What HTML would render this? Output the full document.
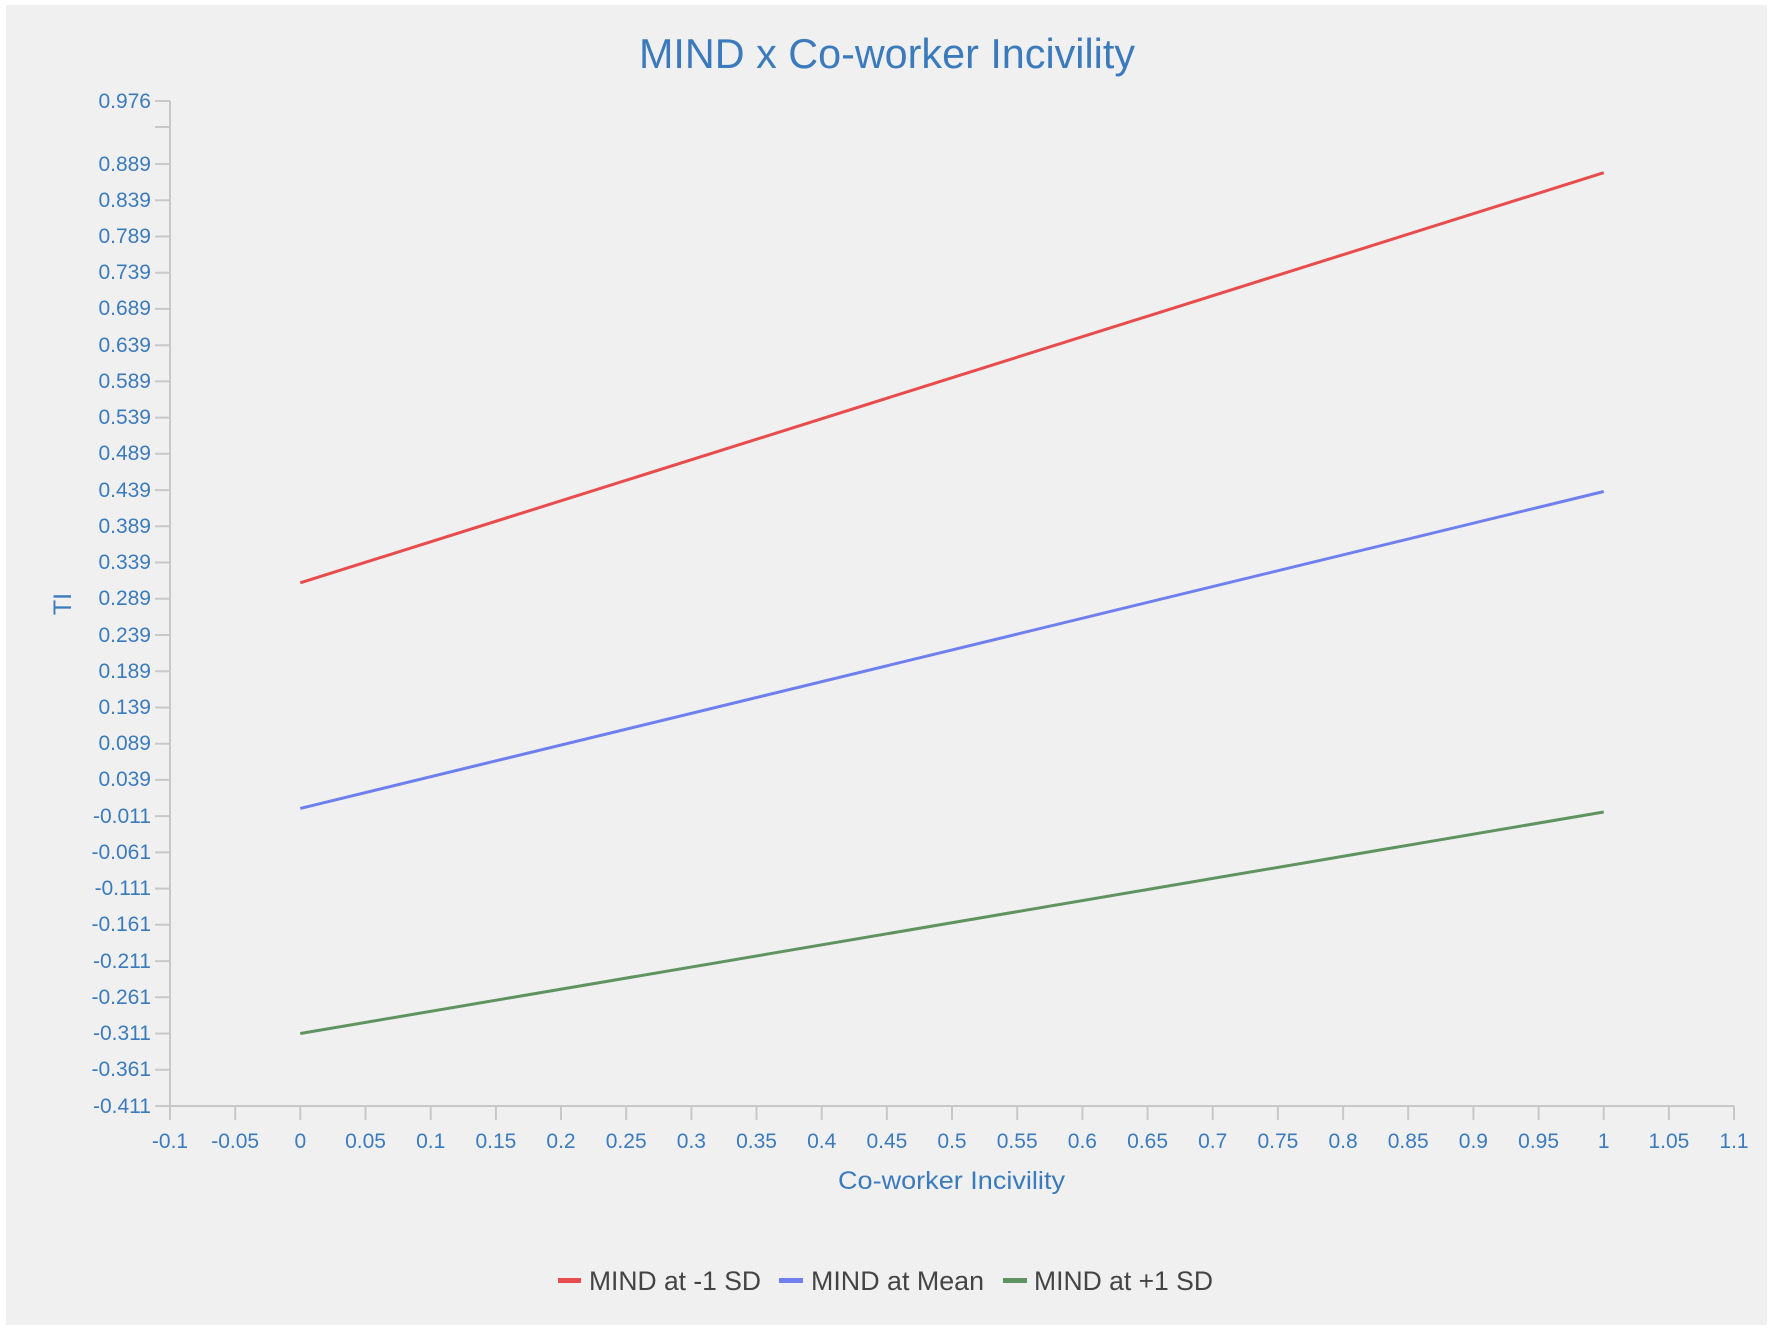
<!DOCTYPE html>
<html><head><meta charset="utf-8"><style>
html,body{margin:0;padding:0;background:#fff;}
svg{display:block;}
text{font-family:"Liberation Sans",sans-serif;}
.yl{font-size:21px;fill:#3b7bbd;text-anchor:end;}
.xl{font-size:21px;fill:#3b7bbd;text-anchor:middle;}
.lg{font-size:27px;fill:#444;}
</style></head><body>
<svg width="1772" height="1331" viewBox="0 0 1772 1331" xmlns="http://www.w3.org/2000/svg">
<rect x="0" y="0" width="1772" height="1331" fill="#fff"/>
<rect x="6" y="5" width="1761" height="1320" fill="#f0f0f0"/>
<text x="887" y="68" font-size="42" fill="#3b7bbd" text-anchor="middle" textLength="496" lengthAdjust="spacingAndGlyphs">MIND x Co-worker Incivility</text>
<g stroke="#c8c8c8" stroke-width="2" fill="none">
<path d="M170 101V1106H1734"/>
<path d="M155 101H170M155 127H170"/>
<path d="M155 164H170M155 200.2H170M155 236.5H170M155 272.7H170M155 308.9H170M155 345.2H170M155 381.4H170M155 417.6H170M155 453.8H170M155 490.1H170M155 526.3H170M155 562.5H170M155 598.8H170M155 635H170M155 671.2H170M155 707.5H170M155 743.7H170M155 779.9H170M155 816.1H170M155 852.4H170M155 888.6H170M155 924.8H170M155 961.1H170M155 997.3H170M155 1033.5H170M155 1069.8H170M155 1106H170"/>
<path d="M170 1106V1120M235.2 1106V1120M300.3 1106V1120M365.5 1106V1120M430.7 1106V1120M495.9 1106V1120M561 1106V1120M626.2 1106V1120M691.4 1106V1120M756.5 1106V1120M821.7 1106V1120M886.9 1106V1120M952 1106V1120M1017.2 1106V1120M1082.4 1106V1120M1147.6 1106V1120M1212.7 1106V1120M1277.9 1106V1120M1343.1 1106V1120M1408.2 1106V1120M1473.4 1106V1120M1538.6 1106V1120M1603.7 1106V1120M1668.9 1106V1120M1734 1106V1120"/>
</g>
<g class="yl">
<text x="151" y="108">0.976</text>
<text x="151" y="171">0.889</text><text x="151" y="207">0.839</text><text x="151" y="243">0.789</text><text x="151" y="279">0.739</text><text x="151" y="315">0.689</text><text x="151" y="352">0.639</text><text x="151" y="388">0.589</text><text x="151" y="424">0.539</text><text x="151" y="460">0.489</text><text x="151" y="497">0.439</text><text x="151" y="533">0.389</text><text x="151" y="569">0.339</text><text x="151" y="605">0.289</text><text x="151" y="642">0.239</text><text x="151" y="678">0.189</text><text x="151" y="714">0.139</text><text x="151" y="750">0.089</text><text x="151" y="786">0.039</text><text x="151" y="823">-0.011</text><text x="151" y="859">-0.061</text><text x="151" y="895">-0.111</text><text x="151" y="931">-0.161</text><text x="151" y="968">-0.211</text><text x="151" y="1004">-0.261</text><text x="151" y="1040">-0.311</text><text x="151" y="1076">-0.361</text><text x="151" y="1113">-0.411</text>
</g>
<g class="xl">
<text x="170" y="1148">-0.1</text><text x="235.2" y="1148">-0.05</text><text x="300.3" y="1148">0</text><text x="365.5" y="1148">0.05</text><text x="430.7" y="1148">0.1</text><text x="495.9" y="1148">0.15</text><text x="561" y="1148">0.2</text><text x="626.2" y="1148">0.25</text><text x="691.4" y="1148">0.3</text><text x="756.5" y="1148">0.35</text><text x="821.7" y="1148">0.4</text><text x="886.9" y="1148">0.45</text><text x="952" y="1148">0.5</text><text x="1017.2" y="1148">0.55</text><text x="1082.4" y="1148">0.6</text><text x="1147.6" y="1148">0.65</text><text x="1212.7" y="1148">0.7</text><text x="1277.9" y="1148">0.75</text><text x="1343.1" y="1148">0.8</text><text x="1408.2" y="1148">0.85</text><text x="1473.4" y="1148">0.9</text><text x="1538.6" y="1148">0.95</text><text x="1603.7" y="1148">1</text><text x="1668.9" y="1148">1.05</text><text x="1734" y="1148">1.1</text>
</g>
<text x="838" y="1189" font-size="25" fill="#3b7bbd" textLength="227" lengthAdjust="spacingAndGlyphs">Co-worker Incivility</text>
<text transform="translate(71,604) rotate(-90)" font-size="25" fill="#3b7bbd" text-anchor="middle">TI</text>
<g stroke-width="3" fill="none">
<line x1="300.3" y1="582.8" x2="1603.7" y2="172.7" stroke="#e84c4c"/>
<line x1="300.3" y1="808.4" x2="1603.7" y2="491.5" stroke="#6f80ee"/>
<line x1="300.3" y1="1033.5" x2="1603.7" y2="812" stroke="#5f9460"/>
</g>
<rect x="558" y="1278" width="23" height="5" fill="#e84c4c"/>
<text class="lg" x="589" y="1290" textLength="172" lengthAdjust="spacingAndGlyphs">MIND at -1 SD</text>
<rect x="779" y="1278" width="24" height="5" fill="#6f80ee"/>
<text class="lg" x="811" y="1290" textLength="173" lengthAdjust="spacingAndGlyphs">MIND at Mean</text>
<rect x="1003" y="1278" width="24" height="5" fill="#5f9460"/>
<text class="lg" x="1034" y="1290" textLength="179" lengthAdjust="spacingAndGlyphs">MIND at +1 SD</text>
</svg>
</body></html>
